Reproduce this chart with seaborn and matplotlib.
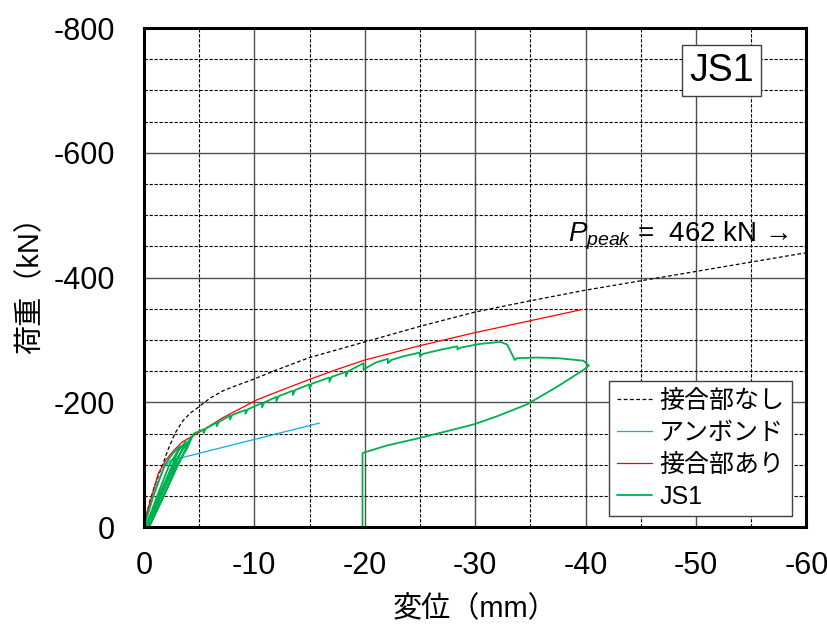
import numpy as np
import pandas as pd
import seaborn as sns
import matplotlib
matplotlib.use("Agg")
import matplotlib.pyplot as plt
from matplotlib.ticker import MultipleLocator

# データ (変位 mm, 荷重 kN) - 図から読み取り
x_nashi = [0, -0.5, -1.0, -1.6, -2.2, -2.8, -3.5, -4.2, -4.9, -6.0, -7.2, -8.5, -9.6,
           -12.0, -15.0, -20.0, -25.0, -30.0, -35.0, -40.0, -45.0, -50.0, -55.0, -60.0]
y_nashi = [0, -40, -68, -96, -125, -150, -170, -183, -192, -207, -219, -228, -235,
           -252, -272, -297, -322, -345, -363, -380, -395, -410, -425, -440]

x_unbond = [0, -0.5, -1.2, -1.8, -2.4, -15.9]
y_unbond = [0, -30, -70, -95, -107, -167]

x_ari = [0, -0.3, -0.8, -1.3, -2.0, -2.7, -3.5, -4.8, -6.0, -7.2, -8.7, -10.2,
         -12.5, -15.0, -17.5, -20.0, -25.0, -30.0, -35.0, -39.7]
y_ari = [0, -25, -55, -86, -108, -123, -137, -150, -163, -176, -190, -204,
         -220, -237, -253, -268, -291, -312, -331, -349]

x_js1 = [0, -0.85, -1.9, -2.6, -3.3, -0.15,
         -1.2, -2.3, -3.0, -3.8, -0.3,
         -1.5, -2.66, -3.5, -4.3, -0.45,
         -1.8, -3.0, -3.9, -4.5,
         -5.4, -5.4, -5.6,
         -6.6, -6.6, -6.8,
         -7.8, -7.8, -8.0,
         -9.2, -9.2, -9.4,
         -10.7, -10.7, -10.9,
         -12.0, -12.0, -12.2,
         -13.5, -13.5, -13.7,
         -15.0, -15.0, -15.2,
         -16.8, -16.8, -17.0,
         -18.3, -18.3, -18.5,
         -19.9, -19.9, -20.2, -21.0,
         -22.1, -22.1, -22.4, -23.5,
         -25.0, -25.0, -25.3, -27.0,
         -28.4, -28.4, -28.7, -30.5, -32.3, -32.9, -33.6, -33.8, -35.6, -37.5,
         -39.8, -40.3, -39.8, -37.5, -34.7, -32.0, -29.9, -27.0, -24.7, -22.0,
         -19.8, -19.8]
y_js1 = [0, -50, -100, -118, -130, 0,
         -50, -100, -120, -138, 0,
         -50, -100, -124, -145, 0,
         -50, -100, -126, -150,
         -157, -151, -158,
         -168, -162, -169,
         -179, -173, -180,
         -188, -182, -189,
         -199, -192, -200,
         -209, -202, -210,
         -219, -212, -220,
         -229, -222, -230,
         -240, -233, -241,
         -249, -242, -250,
         -263, -252, -256, -264,
         -270, -263, -268, -274,
         -280, -274, -278, -285,
         -290, -285, -288, -294, -297, -293, -268, -271, -272, -271,
         -267, -259, -252, -226, -197, -178, -165, -152, -142, -131,
         -119, 0]

series_names = ["接合部なし", "アンボンド", "接合部あり", "JS1"]
colors = ["black", "#00b0f0", "#ff0000", "#00b050"]

sns.set_style("white")
plt.rcParams['font.family'] = ['Liberation Sans', 'Noto Sans CJK JP']
plt.rcParams['mathtext.fontset'] = 'custom'
plt.rcParams['mathtext.it'] = 'Liberation Sans:italic'
plt.rcParams['mathtext.rm'] = 'Liberation Sans'
plt.rcParams['axes.unicode_minus'] = False
plt.rcParams['text.color'] = 'black'
plt.rcParams['axes.labelcolor'] = 'black'
plt.rcParams['xtick.color'] = 'black'
plt.rcParams['ytick.color'] = 'black'

fig = plt.figure(figsize=(8.27, 6.24), dpi=100)
ax = fig.add_axes([0.174, 0.155, 0.801, 0.80])

sns.lineplot(x=x_nashi, y=y_nashi, sort=False, estimator=None, ax=ax,
             color=colors[0], lw=0.9, label=series_names[0])
ax.lines[-1].set_dashes((3, 2))
sns.lineplot(x=x_unbond, y=y_unbond, sort=False, estimator=None, ax=ax,
             color=colors[1], lw=0.9, label=series_names[1])
sns.lineplot(x=x_ari, y=y_ari, sort=False, estimator=None, ax=ax,
             color=colors[2], lw=0.9, label=series_names[2])
sns.lineplot(x=x_js1, y=y_js1, sort=False, estimator=None, ax=ax,
             color=colors[3], lw=1.3, label=series_names[3])

ax.set_xlim(0, -60)
ax.set_ylim(0, -800)
ax.xaxis.set_major_locator(MultipleLocator(10))
ax.xaxis.set_minor_locator(MultipleLocator(5))
ax.yaxis.set_major_locator(MultipleLocator(200))
ax.yaxis.set_minor_locator(MultipleLocator(50))
ax.set_axisbelow(True)
ax.grid(which='major', color='#505050', lw=1.0, ls='-')
ax.grid(which='minor', color='black', lw=0.8, ls=(0, (3, 1.5)))
ax.tick_params(which='both', length=0, labelsize=22)
ax.tick_params(axis='x', pad=17)
ax.tick_params(axis='y', pad=21)
for s in ax.spines.values():
    s.set_visible(True)
    s.set_color('black')
    s.set_linewidth(2.2)

ax.set_xlabel("変位（mm）", fontsize=21, labelpad=10)
ax.set_ylabel("荷重（kN）", fontsize=21, labelpad=6)

leg = ax.legend(loc='lower right', bbox_to_anchor=(0.978, 0.022), borderaxespad=0,
                fontsize=18, frameon=True, fancybox=False, framealpha=1,
                edgecolor='#404040', handlelength=1.4, handletextpad=0.3,
                labelspacing=0.32, borderpad=0.3)
leg.get_frame().set_linewidth(1.0)

ax.text(-52.3, -732, "JS1", fontsize=27, ha='center', va='center',
        bbox=dict(boxstyle='square,pad=0.2', fc='white', ec='#404040', lw=1.0))
ax.text(-58.4, -458, r"$P_{peak}$ =  462 kN →", fontsize=20, ha='right', va='baseline')

fig.savefig("out.png", dpi=100)
